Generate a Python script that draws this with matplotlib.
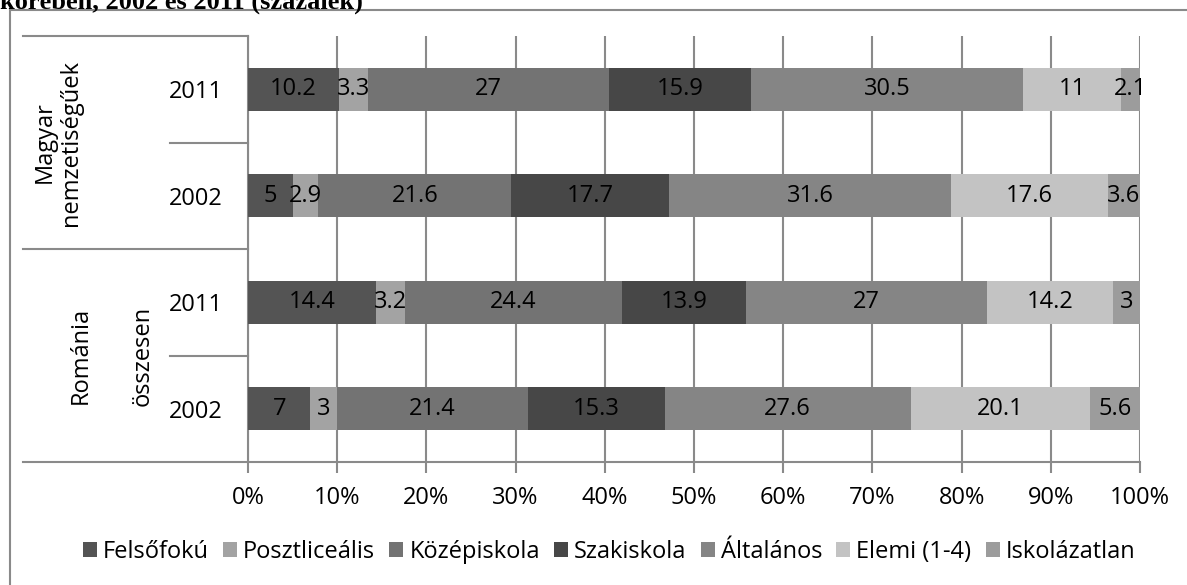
import numpy as np
import matplotlib
matplotlib.use('Agg')
import matplotlib.pyplot as plt
from matplotlib.lines import Line2D
from matplotlib.patches import Rectangle

plt.rcParams['font.family'] = ['Open Sans', 'DejaVu Sans']

# data
categories = ['Felsőfokú', 'Posztliceális', 'Középiskola', 'Szakiskola',
              'Általános', 'Elemi (1-4)', 'Iskolázatlan']
years = ['2011', '2002', '2011', '2002']
groups = ['Magyar\nnemzetiségűek', 'Románia', 'összesen']

magyar_2011 = [10.2, 3.3, 27, 15.9, 30.5, 11, 2.1]
magyar_2002 = [5, 2.9, 21.6, 17.7, 31.6, 17.6, 3.6]
romania_2011 = [14.4, 3.2, 24.4, 13.9, 27, 14.2, 3]
romania_2002 = [7, 3, 21.4, 15.3, 27.6, 20.1, 5.6]

colors = ['#545454', '#a3a3a3', '#737373', '#474747', '#858585', '#c3c3c3', '#9c9c9c']
grid_c = '#8a8a8a'
fs = 17

rows = np.array([magyar_2011, magyar_2002, romania_2011, romania_2002], dtype=float)
pct = rows / rows.sum(axis=1, keepdims=True) * 100
y = np.arange(len(rows))

fig = plt.figure(figsize=(11.87, 5.85), dpi=100)
ax = fig.add_axes([248/1187, 1-462/585, 892/1187, 426/585])

left = np.zeros(len(rows))
bars = []
for i, cat in enumerate(categories):
    b = ax.barh(y, pct[:, i], left=left, height=0.4, color=colors[i], label=cat, zorder=3)
    ax.bar_label(b, labels=[f'{v:g}' for v in rows[:, i]], label_type='center',
                 fontsize=fs, color='black', zorder=4)
    bars.append(b)
    left += pct[:, i]

ax.set_xlim(0, 100)
ax.set_ylim(3.5, -0.5)
ax.set_xticks(np.arange(0, 101, 10))
ax.set_xticklabels([f'{t}%' for t in range(0, 101, 10)], fontsize=fs)
ax.set_yticks(y)
ax.set_yticklabels(years, fontsize=fs)
ax.tick_params(axis='y', length=0, pad=18)
ax.tick_params(axis='x', length=8, width=1.5, color=grid_c, pad=9)
ax.grid(axis='x', color=grid_c, lw=1.5, zorder=0)
for s in ['top', 'right']:
    ax.spines[s].set_visible(False)
for s in ['left', 'bottom']:
    ax.spines[s].set_color(grid_c)
    ax.spines[s].set_linewidth(1.5)

# category lines on the left
tr = ax.get_yaxis_transform()
for b in [-0.5, 1.5, 3.5]:
    ax.add_artist(Line2D([-0.252, 0], [b, b], transform=tr, color=grid_c, lw=1.5, clip_on=False))
for b in [0.5, 2.5]:
    ax.add_artist(Line2D([-0.087, 0], [b, b], transform=tr, color=grid_c, lw=1.5, clip_on=False))

ax.text(-0.213, 0.5, groups[0], transform=tr, rotation=90, ha='center', va='center',
        fontsize=fs, multialignment='center', linespacing=1.15)
ax.text(-0.188, 2.5, groups[1], transform=tr, rotation=90, ha='center', va='center', fontsize=fs)
ax.text(-0.118, 2.5, groups[2], transform=tr, rotation=90, ha='center', va='center', fontsize=fs)

fig.legend(handles=bars, labels=categories, loc='center', bbox_to_anchor=(0.513, 0.056),
           ncol=7, frameon=False, fontsize=fs, handlelength=0.6, handleheight=0.6,
           handletextpad=0.25, columnspacing=0.6)

# outer frame and cut title
fig.add_artist(Rectangle((10/1187, -0.1), 1.2, 1-10/585+0.1, transform=fig.transFigure,
                         fill=False, edgecolor=grid_c, lw=1.5))
fig.text(0.0, 1-9/585, 'körében, 2002 és 2011 (százalék)', family='Liberation Serif',
         weight='bold', fontsize=19, va='baseline')

fig.savefig('out.png', dpi=100)
